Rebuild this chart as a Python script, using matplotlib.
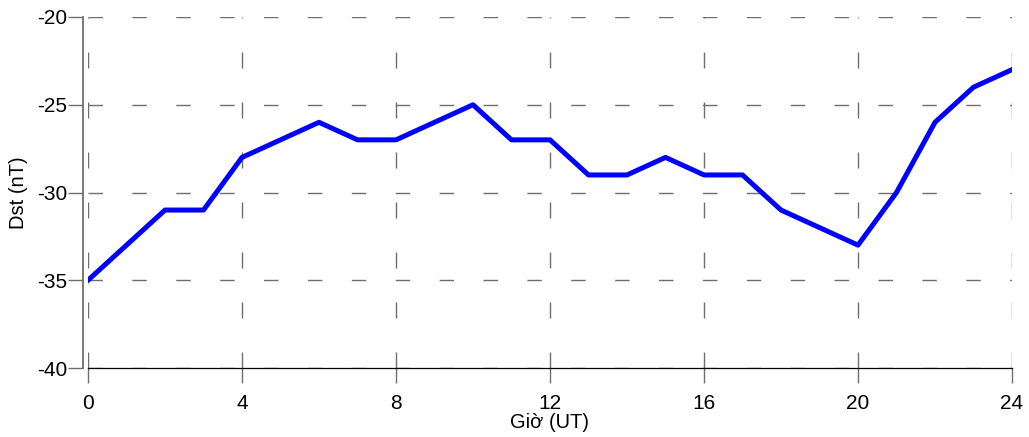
import matplotlib
matplotlib.use("Agg")
import matplotlib.pyplot as plt

plt.rcParams['font.family'] = ['Liberation Sans', 'DejaVu Sans']
plt.rcParams['axes.unicode_minus'] = False

# Dst hourly values
gio = list(range(25))
dst = [-35, -33, -31, -31, -28, -27, -26, -27, -27, -26, -25, -27, -27,
       -29, -29, -28, -29, -29, -31, -32, -33, -30, -26, -24, -23]

x_ticks = [0, 4, 8, 12, 16, 20, 24]
y_ticks = [-40, -35, -30, -25, -20]

fig = plt.figure(figsize=(10.29, 4.37), dpi=100)
ax = fig.add_axes([88/1029, 69/437, 924/1029, 351/437])

ax.plot(gio, dst, color='#0000ff', linewidth=3.6, zorder=3)

ax.set_xlim(0, 24)
ax.set_ylim(-40, -20)
ax.set_xticks(x_ticks)
ax.set_yticks(y_ticks)

grid_col = '#6e6e6e'
ax.xaxis.grid(True, color=grid_col, linewidth=1.0, linestyle=(0, (11.5, 24.5)))
ax.yaxis.grid(True, color=grid_col, linewidth=1.0, linestyle=(0, (10.4, 21.2)))
ax.set_axisbelow(True)

for s in ['top', 'right']:
    ax.spines[s].set_visible(False)
ax.spines['left'].set_position(('outward', 3.6))
ax.spines['left'].set_color(grid_col)
ax.spines['left'].set_linewidth(1.3)
ax.spines['bottom'].set_color('black')
ax.spines['bottom'].set_linewidth(0.9)
ax.spines['bottom'].set_zorder(2.5)

ax.tick_params(axis='x', direction='out', length=11, width=1.0, color=grid_col,
               pad=8, labelsize=15)
ax.tick_params(axis='y', direction='out', length=11, width=1.0, color=grid_col,
               pad=0.5, labelsize=15)

ax.set_xlabel('Giờ (UT)', fontsize=14.5, labelpad=0)
ax.set_ylabel('Dst (nT)', fontsize=14.5, labelpad=6)

fig.savefig('out.png', dpi=100)
